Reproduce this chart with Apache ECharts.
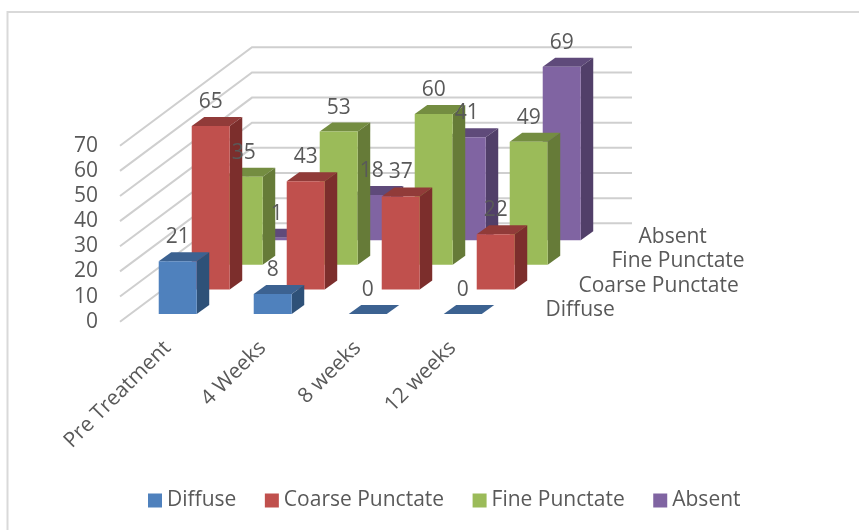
<!DOCTYPE html>
<html>
<head>
<meta charset="utf-8">
<style>html,body{margin:0;padding:0;background:#fff}#chart{width:859px;height:530px}</style>
<script src="https://cdn.jsdelivr.net/npm/echarts@6/dist/echarts.min.js"></script>
</head>
<body>
<div id="chart"></div>
<script>
// Time points and score values per pattern
const categories = ['Pre Treatment', '4 Weeks', '8 weeks', '12 weeks'];
const diffuse = [21, 8, 0, 0];
const coarsePunctate = [65, 43, 37, 22];
const finePunctate = [35, 53, 60, 49];
const absent = [1, 18, 41, 69];
const yTicks = [0, 10, 20, 30, 40, 50, 60, 70];
const depthNames = ['Diffuse', 'Coarse Punctate', 'Fine Punctate', 'Absent'];

// Oblique projection used for the pseudo-3D boxes
const DEPTH_STEP = [33, -24.6];
const BOX_DEPTH = [12.5, -9];
const BOX_WIDTH_RATIO = 0.4;
const BOX_DEPTH_INSET = 0.31;
const FONT = '"Open Sans"';
const FONT_SIZE = 21;
const TEXT = '#595959';
const DEPTH_LABEL_GAP = 29;
const DEPTH_LABEL_NUDGE = [0, 0, 0, -6];

const palettes = [
  { front: '#4F81BD', top: '#3C6291', side: '#2E5178' },
  { front: '#C0504D', top: '#913B39', side: '#7C2E2C' },
  { front: '#9BBB59', top: '#748D41', side: '#667B38' },
  { front: '#8064A2', top: '#5F4A7A', side: '#513F69' }
];
const seriesValues = [diffuse, coarsePunctate, finePunctate, absent];

// Front-bottom-left corner of a box in pixels, plus its front-face metrics
function boxGeometry(api, catIdx, value, depthIdx) {
  const band = api.size([1, 0])[0];
  const w = band * BOX_WIDTH_RATIO;
  const base = api.coord([catIdx, 0]);
  const top = api.coord([catIdx, value]);
  const ox = (depthIdx + BOX_DEPTH_INSET) * DEPTH_STEP[0];
  const oy = (depthIdx + BOX_DEPTH_INSET) * DEPTH_STEP[1];
  return {
    x: base[0] - w / 2 + ox,
    y0: base[1] + oy,
    y1: top[1] + oy,
    w: w
  };
}

function poly(points, fill) {
  return { type: 'polygon', shape: { points: points }, style: { fill: fill } };
}

function renderBox(depthIdx) {
  return function (params, api) {
    const g = boxGeometry(api, api.value(0), api.value(1), depthIdx);
    const c = palettes[depthIdx];
    const dx = BOX_DEPTH[0], dy = BOX_DEPTH[1];
    const xl = g.x, xr = g.x + g.w;
    return {
      type: 'group',
      children: [
        poly([[xl, g.y1], [xr, g.y1], [xr + dx, g.y1 + dy], [xl + dx, g.y1 + dy]], c.top),
        poly([[xr, g.y1], [xr + dx, g.y1 + dy], [xr + dx, g.y0 + dy], [xr, g.y0]], c.side),
        poly([[xl, g.y1], [xr, g.y1], [xr, g.y0], [xl, g.y0]], c.front)
      ]
    };
  };
}

// Walls: one diagonal plus one back line for every value tick
function renderWall(params, api) {
  const band = api.size([1, 0])[0];
  const v = api.value(0);
  const p = api.coord([0, v]);
  const x0 = p[0] - band / 2;
  const y0 = p[1];
  const x1 = x0 + DEPTH_STEP[0] * depthNames.length;
  const y1 = y0 + DEPTH_STEP[1] * depthNames.length;
  const x2 = x1 + band * categories.length;
  return {
    type: 'polyline',
    shape: { points: [[x0, y0], [x1, y1], [x2, y1]] },
    style: { stroke: '#CFCFCF', lineWidth: 2, fill: 'none' }
  };
}

function renderValueLabel(params, api) {
  const depthIdx = api.value(2);
  const g = boxGeometry(api, api.value(0), api.value(1), depthIdx);
  return {
    type: 'text',
    x: g.x + g.w / 2,
    y: g.y1 + BOX_DEPTH[1] - 15,
    style: {
      text: String(api.value(1)),
      fill: TEXT,
      font: FONT_SIZE + 'px ' + FONT,
      align: 'center',
      verticalAlign: 'middle'
    }
  };
}

function renderDepthLabel(params, api) {
  const idx = api.value(0);
  const band = api.size([1, 0])[0];
  const p = api.coord([categories.length - 1, 0]);
  return {
    type: 'text',
    x: p[0] + band / 2 + (idx + 0.5) * DEPTH_STEP[0] + DEPTH_LABEL_GAP + DEPTH_LABEL_NUDGE[idx],
    y: p[1] + (idx + 0.5) * DEPTH_STEP[1] + 1,
    style: {
      text: depthNames[idx],
      fill: TEXT,
      font: FONT_SIZE + 'px ' + FONT,
      align: 'left',
      verticalAlign: 'middle'
    }
  };
}

const valueLabelData = [];
seriesValues.forEach(function (vals, d) {
  vals.forEach(function (v, i) { valueLabelData.push([i, v, d]); });
});

const boxSeries = depthNames.map(function (name, d) {
  return {
    name: name,
    type: 'custom',
    coordinateSystem: 'cartesian2d',
    renderItem: renderBox(d),
    clip: false,
    silent: true,
    z: 10 - d,
    itemStyle: { color: palettes[d].front },
    encode: { x: 0, y: 1 },
    data: seriesValues[d].map(function (v, i) { return [i, v]; })
  };
});

const option = {
  animation: false,
  backgroundColor: '#fff',
  textStyle: { fontFamily: 'Open Sans' },
  graphic: [{
    type: 'polyline',
    shape: { points: [[7.5, 530], [7.5, 12], [859, 12]] },
    style: { fill: 'none', stroke: '#D9D9D9', lineWidth: 2 },
    silent: true
  }],
  legend: {
    data: depthNames,
    top: 490,
    left: 148,
    padding: 0,
    itemWidth: 14,
    itemHeight: 14,
    itemGap: 28.5,
    icon: 'rect',
    textStyle: { color: TEXT, fontSize: FONT_SIZE, fontFamily: 'Open Sans' }
  },
  grid: { left: 120, top: 145.7, width: 380, height: 176 },
  xAxis: {
    type: 'category',
    data: categories,
    axisLine: { show: false },
    axisTick: { show: false },
    axisLabel: { rotate: 45, margin: 23, color: TEXT, fontSize: FONT_SIZE, fontFamily: 'Open Sans' }
  },
  yAxis: {
    type: 'value',
    min: 0,
    max: 70,
    interval: 10,
    axisLine: { show: false },
    axisTick: { show: false },
    splitLine: { show: false },
    axisLabel: { margin: 22, padding: [2, 0, 0, 0], color: TEXT, fontSize: FONT_SIZE, fontFamily: 'Open Sans' }
  },
  series: [
    {
      type: 'custom',
      name: 'walls',
      renderItem: renderWall,
      clip: false,
      silent: true,
      z: 1,
      encode: { y: 0 },
      data: yTicks.map(function (t) { return [t]; })
    }
  ].concat(boxSeries, [
    {
      type: 'custom',
      name: 'values',
      renderItem: renderValueLabel,
      clip: false,
      silent: true,
      z: 20,
      data: valueLabelData
    },
    {
      type: 'custom',
      name: 'depth',
      renderItem: renderDepthLabel,
      clip: false,
      silent: true,
      z: 20,
      data: depthNames.map(function (n, i) { return [i]; })
    }
  ])
};

echarts.init(document.getElementById('chart'), null, { renderer: 'canvas' }).setOption(option);
</script>
</body>
</html>
